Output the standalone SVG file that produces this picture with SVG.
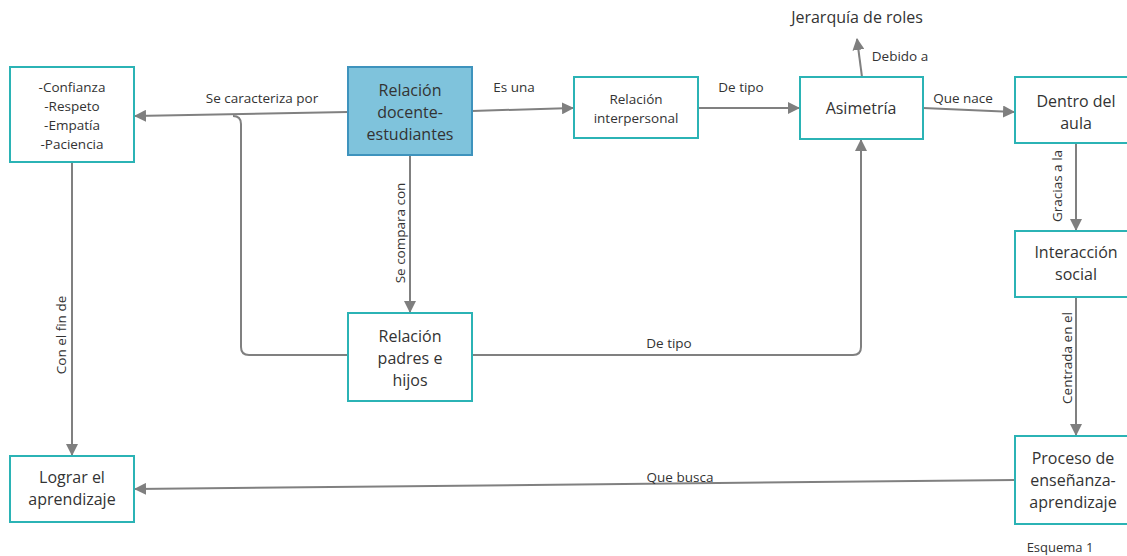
<svg xmlns="http://www.w3.org/2000/svg" width="1127" height="556" viewBox="0 0 1127 556">
<defs>
<marker id="arr" markerUnits="userSpaceOnUse" markerWidth="12" markerHeight="12" refX="11" refY="6" orient="auto">
<path d="M0,0 L12,6 L0,12 z" fill="#7f7f7f"/>
</marker>
<style>
.box{fill:#fff;stroke:#2bb3b5;stroke-width:2}
.main{fill:#7fc3dc;stroke:#3e93bd;stroke-width:2}
.t{font-family:"Open Sans","Noto Sans",sans-serif;fill:#333;text-anchor:middle}
.big{font-size:16px}
.sm{font-size:13.5px}
.lbl{font-family:"Open Sans","Noto Sans",sans-serif;fill:#333;font-size:13.5px;text-anchor:middle}
.c{fill:none;stroke:#808080;stroke-width:2}
</style>
</defs>
<rect width="1127" height="556" fill="#fff"/>
<g id="connectors">
<path class="c" d="M348,355 H249 Q241,355 241,347 V124 Q241,116 233,116"/>
<path class="c" d="M348,112 L135,116" marker-end="url(#arr)"/>
<path class="c" d="M472,111 L573,108" marker-end="url(#arr)"/>
<path class="c" d="M698,108 L799,108" marker-end="url(#arr)"/>
<path class="c" d="M862,77 L857,39" marker-end="url(#arr)"/>
<path class="c" d="M923,108 L1014,112" marker-end="url(#arr)"/>
<path class="c" d="M1076,143 V230" marker-end="url(#arr)"/>
<path class="c" d="M1076,297 V435" marker-end="url(#arr)"/>
<path class="c" d="M1015,480 L135,489" marker-end="url(#arr)"/>
<path class="c" d="M72,162 V455" marker-end="url(#arr)"/>
<path class="c" d="M410,155 V312" marker-end="url(#arr)"/>
<path class="c" d="M473,355 H853 Q861,355 861,347 V140" marker-end="url(#arr)"/>
<text class="lbl" x="262" y="103">Se caracteriza por</text>
<text class="lbl" x="514" y="92">Es una</text>
<text class="lbl" x="741" y="92">De tipo</text>
<text class="lbl" x="900" y="61">Debido a</text>
<text class="lbl" x="963" y="103">Que nace</text>
<text class="lbl" x="680" y="482">Que busca</text>
<text class="lbl" x="669" y="348">De tipo</text>
<text class="lbl" transform="translate(1062,186) rotate(-90)">Gracias a la</text>
<text class="lbl" transform="translate(1072,358) rotate(-90)">Centrada en el</text>
<text class="lbl" transform="translate(66,335) rotate(-90)">Con el fin de</text>
<text class="lbl" transform="translate(405,233) rotate(-90)">Se compara con</text>
</g>
<g id="n-valores">
<rect class="box" x="10" y="67" width="124" height="95"/>
<text class="t sm" x="72" y="92">-Confianza</text>
<text class="t sm" x="72" y="111">-Respeto</text>
<text class="t sm" x="72" y="130">-Empatía</text>
<text class="t sm" x="72" y="149">-Paciencia</text>
</g>
<g id="n-docente">
<rect class="main" x="348" y="67" width="124" height="88"/>
<text class="t big" x="410" y="96">Relación</text>
<text class="t big" x="410" y="118">docente-</text>
<text class="t big" x="410" y="140">estudiantes</text>
</g>
<g id="n-interpersonal">
<rect class="box" x="574" y="77" width="124" height="61"/>
<text class="t sm" x="636" y="104">Relación</text>
<text class="t sm" x="636" y="123">interpersonal</text>
</g>
<g id="n-asimetria">
<rect class="box" x="800" y="77" width="123" height="62"/>
<text class="t big" x="861" y="114">Asimetría</text>
</g>
<g id="n-jerarquia">
<text class="t big" x="857" y="23">Jerarquía de roles</text>
</g>
<g id="n-aula">
<rect class="box" x="1015" y="77" width="122" height="66"/>
<text class="t big" x="1076" y="107">Dentro del</text>
<text class="t big" x="1076" y="129">aula</text>
</g>
<g id="n-interaccion">
<rect class="box" x="1015" y="231" width="122" height="66"/>
<text class="t big" x="1076" y="258">Interacción</text>
<text class="t big" x="1076" y="280">social</text>
</g>
<g id="n-proceso">
<rect class="box" x="1015" y="436" width="122" height="88"/>
<text class="t big" x="1073" y="464">Proceso de</text>
<text class="t big" x="1073" y="486">enseñanza-</text>
<text class="t big" x="1073" y="508">aprendizaje</text>
</g>
<g id="n-lograr">
<rect class="box" x="10" y="456" width="124" height="66"/>
<text class="t big" x="72" y="483">Lograr el</text>
<text class="t big" x="72" y="505">aprendizaje</text>
</g>
<g id="n-padres">
<rect class="box" x="348" y="313" width="124" height="88"/>
<text class="t big" x="410" y="342">Relación</text>
<text class="t big" x="410" y="364">padres e</text>
<text class="t big" x="410" y="386">hijos</text>
</g>
<text class="t" x="1060" y="552" font-size="13">Esquema 1</text>
</svg>
